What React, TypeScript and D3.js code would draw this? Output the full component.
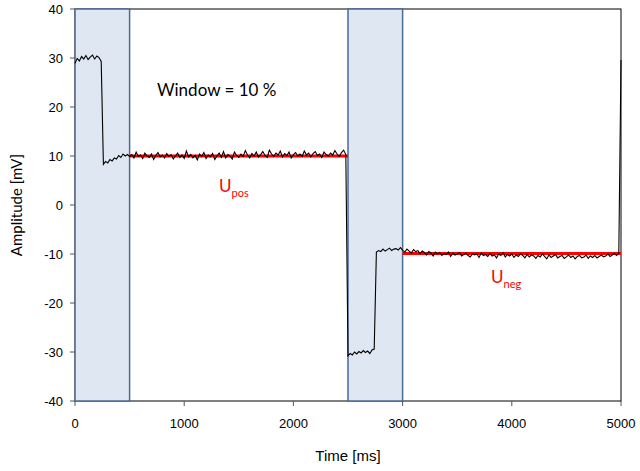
import React from "react";
import * as d3 from "d3";

// Sampled trace: one amplitude value every SAMPLE_MS, starting at t = 0
const SAMPLE_MS = 20;

const amplitudeMv: number[] = [
  // 0–240 ms: initial level
  28.9, 29.9, 29.4, 30.3, 29.8, 30.5, 29.7, 30.2, 30.6, 29.8, 30.4, 30.1, 29.3,
  // 260–500 ms: settling after the first step
  8.3, 8.9, 8.6, 9.3, 9.0, 9.6, 9.4, 10.1, 9.7, 10.4, 10.0, 10.3, 9.9,
  // 520–2480 ms: positive plateau
  10.3, 9.6, 10.8, 9.9, 10.2, 9.5, 10.6, 10.0, 9.7, 10.4,
  9.3, 10.1, 10.7, 9.8, 10.2, 9.6, 10.5, 9.9, 10.3, 9.4,
  10.0, 10.6, 9.7, 10.2, 9.5, 11.0, 9.8, 10.3, 9.6, 10.1,
  9.2, 10.4, 9.9, 10.7, 9.5, 10.2, 9.8, 10.5, 9.3, 10.0,
  10.6, 9.7, 10.9, 9.6, 10.3, 10.0, 9.4, 10.8, 10.1, 9.7,
  10.4, 9.9, 11.1, 10.2, 9.6, 10.5, 10.0, 10.8, 9.8, 10.3,
  10.9, 10.1, 9.7, 11.2, 10.4, 9.9, 10.6, 10.2, 11.0, 9.8,
  10.5, 10.1, 10.8, 9.6, 10.3, 10.7, 10.0, 10.4, 9.9, 11.0,
  10.2, 10.6, 9.8, 10.5, 10.9, 10.1, 10.4, 9.7, 10.8, 10.3,
  10.0, 10.6, 10.2, 11.1, 10.4, 9.9, 10.7, 11.2, 10.3,
  // 2500–2740 ms: negative overshoot
  -30.8, -30.3, -30.6, -30.0, -30.4, -29.9, -30.2, -29.7, -30.1, -29.8, -30.3, -29.6, -29.4,
  // 2760–2980 ms: settling after the second step
  -9.6, -9.3, -9.5, -9.0, -9.4, -9.1, -8.8, -9.3, -9.0, -8.9, -9.2, -8.7,
  // 3000–4980 ms: negative plateau
  -9.2, -9.6, -9.0, -9.4, -9.8, -9.1, -9.5, -9.3, -9.9, -9.4,
  -9.7, -10.2, -9.5, -9.8, -10.4, -9.6, -10.0, -9.7, -10.3, -9.9,
  -10.1, -9.6, -10.5, -9.8, -10.2, -10.0, -9.7, -10.4, -10.1, -9.8,
  -10.3, -10.6, -9.9, -10.2, -10.0, -10.7, -9.8, -10.3, -10.1, -10.5,
  -9.9, -10.4, -10.2, -10.8, -10.0, -10.3, -9.7, -10.6, -10.1, -10.4,
  -10.0, -10.7, -10.2, -10.5, -9.9, -10.3, -10.8, -10.1, -10.6, -10.2,
  -10.4, -10.9, -10.3, -10.6, -10.0, -10.5, -11.0, -10.2, -10.7, -10.4,
  -10.1, -10.8, -10.5, -10.3, -10.9, -10.6, -10.2, -10.7, -10.4, -11.0,
  -10.5, -10.3, -10.8, -10.6, -10.2, -10.9, -10.4, -10.7, -10.3, -10.8,
  -10.5, -10.2, -10.6, -10.4, -10.0, -10.5, -10.2, -9.9, -10.3, -9.8,
  // 5000 ms: next step begins
  29.6,
];

// Evaluation windows (10 % of each half period), in ms
const windowStarts = [0, 2500];
const windowEnds = [500, 3000];

// Plateau levels estimated outside the windows
const levelNames = ["pos", "neg"];
const levelStarts = [500, 3000];
const levelEnds = [2500, 5000];
const levelValues = [10, -9.9];

const xTicks = [0, 1000, 2000, 3000, 4000, 5000];
const yTicks = [-40, -30, -20, -10, 0, 10, 20, 30, 40];

const W = 640;
const H = 471;
const M = { left: 75, right: 621, top: 9, bottom: 401 };

export default function App() {
  const x = d3.scaleLinear().domain([0, 5000]).range([M.left, M.right]);
  const y = d3.scaleLinear().domain([-40, 40]).range([M.bottom, M.top]);

  const line = d3
    .line<number>()
    .x((_, i) => x(i * SAMPLE_MS))
    .y((d) => y(d));

  const tickFont = "'Liberation Sans', Arial, sans-serif";
  const labelFont = "Lato, 'Open Sans', sans-serif";

  const labelPos = [
    { x: 219, y: 192 },
    { x: 491, y: 283 },
  ];

  return (
    <svg
      width={W}
      height={H}
      style={{ position: "absolute", left: 0, top: 0, background: "#fff" }}
    >
      {/* plot frame */}
      <rect
        x={M.left}
        y={M.top}
        width={M.right - M.left}
        height={M.bottom - M.top}
        fill="none"
        stroke="#000"
        strokeWidth={1}
      />

      {/* evaluation windows */}
      {windowStarts.map((s, i) => (
        <rect
          key={"w" + i}
          x={x(s)}
          y={y(40)}
          width={x(windowEnds[i]) - x(s)}
          height={y(-40) - y(40)}
          fill="#dfe7f2"
          stroke="#4a6b96"
          strokeWidth={1.5}
        />
      ))}

      {/* y axis */}
      <line x1={M.left} x2={M.left} y1={M.top} y2={M.bottom} stroke="#7f7f7f" strokeWidth={0.8} />
      {yTicks.map((t) => (
        <g key={"y" + t}>
          <line x1={M.left - 5} x2={M.left} y1={y(t)} y2={y(t)} stroke="#555" strokeWidth={1} />
          <text
            x={M.left - 12}
            y={y(t)}
            dy="0.35em"
            textAnchor="end"
            fontFamily={tickFont}
            fontSize={13}
            fill="#000"
          >
            {t}
          </text>
        </g>
      ))}

      {/* x axis */}
      {xTicks.map((t) => (
        <g key={"x" + t}>
          <line x1={x(t)} x2={x(t)} y1={M.bottom} y2={M.bottom + 5} stroke="#555" strokeWidth={1} />
          <text
            x={x(t)}
            y={M.bottom + 27}
            textAnchor="middle"
            fontFamily={tickFont}
            fontSize={13}
            fill="#000"
          >
            {t}
          </text>
        </g>
      ))}

      {/* plateau levels */}
      {levelValues.map((v, i) => (
        <line
          key={"l" + i}
          x1={x(levelStarts[i])}
          x2={x(levelEnds[i])}
          y1={y(v)}
          y2={y(v)}
          stroke="#ff0000"
          strokeWidth={3}
        />
      ))}

      {/* signal trace */}
      <path d={line(amplitudeMv) ?? ""} fill="none" stroke="#000" strokeWidth={1.1} />

      {/* annotations */}
      <text x={157} y={96} fontFamily={labelFont} fontSize={17} fill="#000">
        Window = 10 %
      </text>
      {levelNames.map((n, i) => (
        <text
          key={"n" + i}
          x={labelPos[i].x}
          y={labelPos[i].y}
          fontFamily={labelFont}
          fontSize={17}
          fill="#ff0000"
        >
          U
          <tspan fontSize={11} dy={5}>
            {n}
          </tspan>
        </text>
      ))}

      {/* axis titles */}
      <text
        x={348}
        y={461}
        textAnchor="middle"
        fontFamily={tickFont}
        fontSize={15}
        fill="#000"
      >
        Time [ms]
      </text>
      <text
        transform={`translate(22, ${y(0)}) rotate(-90)`}
        textAnchor="middle"
        fontFamily={labelFont}
        fontSize={15}
        fill="#000"
      >
        Amplitude [mV]
      </text>
    </svg>
  );
}
